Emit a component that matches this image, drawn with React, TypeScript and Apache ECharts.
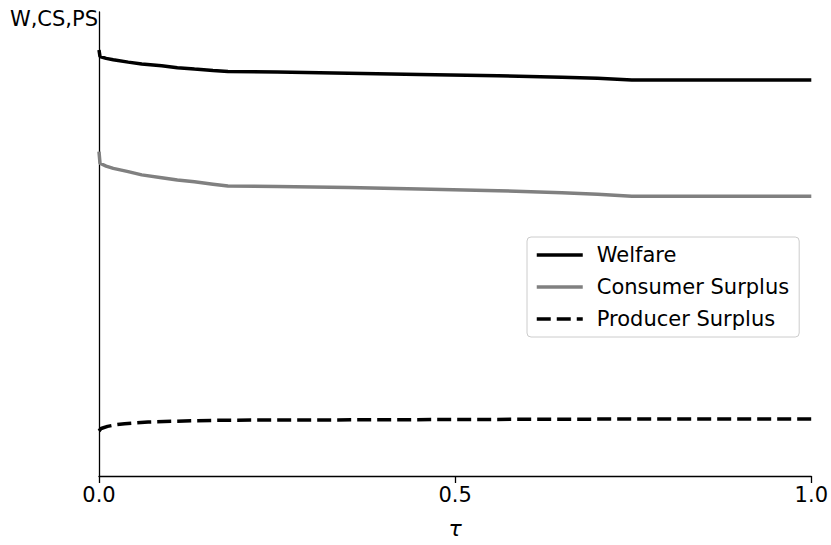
import React, { useEffect, useRef } from "react";
import * as echarts from "echarts";

// τ positions and values (arbitrary units, y axis unlabeled)
const welfareTau = [0, 0.0014, 0.01, 0.02, 0.041, 0.06, 0.088, 0.11, 0.134, 0.16, 0.181, 0.25, 0.35, 0.45, 0.56, 0.65, 0.7, 0.748, 0.85, 1.0];
const welfareVals = [91.8, 90.4, 90.0, 89.7, 89.2, 88.8, 88.4, 88.0, 87.7, 87.4, 87.2, 87.05, 86.8, 86.55, 86.25, 85.95, 85.7, 85.35, 85.35, 85.35];

const csTau = [0, 0.0014, 0.01, 0.02, 0.041, 0.06, 0.088, 0.11, 0.134, 0.16, 0.181, 0.25, 0.35, 0.45, 0.56, 0.65, 0.7, 0.748, 0.85, 1.0];
const csVals = [69.9, 67.4, 66.8, 66.3, 65.6, 64.9, 64.3, 63.8, 63.4, 62.9, 62.5, 62.4, 62.15, 61.85, 61.5, 61.05, 60.7, 60.3, 60.3, 60.3];

const psTau = [0, 0.003, 0.012, 0.024, 0.036, 0.069, 0.102, 0.134, 0.167, 0.181, 0.4, 0.6, 0.75, 1.0];
const psVals = [9.7, 10.24, 10.7, 11.05, 11.27, 11.64, 11.79, 11.92, 12.0, 12.03, 12.12, 12.22, 12.28, 12.28];

const xTicks = [0, 0.5, 1.0];
const seriesNames = ["Welfare", "Consumer Surplus", "Producer Surplus"];
const yAxisTitle = "W,CS,PS";
const xAxisTitle = "τ";

const FONT = "DejaVu Sans";

function zip(xs: number[], ys: number[]) {
  return xs.map((x, i) => [x, ys[i]]);
}

export default function App() {
  const ref = useRef<HTMLDivElement>(null);
  useEffect(() => {
    if (!ref.current) return;
    const chart = echarts.init(ref.current, undefined, { renderer: "svg" });
    chart.setOption({
      animation: false,
      backgroundColor: "#ffffff",
      grid: { left: 99, right: 18, top: 12, bottom: 69 },
      xAxis: {
        type: "value",
        min: xTicks[0],
        max: xTicks[xTicks.length - 1],
        interval: 0.5,
        name: xAxisTitle,
        nameLocation: "middle",
        nameGap: 41,
        nameTextStyle: { fontFamily: FONT, fontSize: 22, fontStyle: "italic", color: "#000" },
        axisLine: { show: true, lineStyle: { color: "#000", width: 1.3 } },
        axisTick: { show: true, inside: false, length: 7, lineStyle: { color: "#000", width: 1.3 } },
        axisLabel: {
          fontFamily: FONT,
          fontSize: 21,
          color: "#000",
          margin: 8,
          formatter: (v: number) => v.toFixed(1),
        },
        splitLine: { show: false },
      },
      yAxis: {
        type: "value",
        min: 0,
        max: 100,
        axisLine: { show: true, onZero: false, lineStyle: { color: "#000", width: 1.3 } },
        axisTick: { show: false },
        axisLabel: { show: false },
        splitLine: { show: false },
      },
      legend: {
        data: seriesNames,
        orient: "vertical",
        left: 527,
        top: 237,
        itemWidth: 46,
        itemHeight: 14,
        itemGap: 10,
        padding: [7, 10, 7, 8],
        borderColor: "#cccccc",
        borderWidth: 1,
        borderRadius: 4,
        backgroundColor: "rgba(255,255,255,0.8)",
        selectedMode: false,
        itemStyle: { opacity: 0 },
        lineStyle: { width: 3.5 },
        textStyle: {
          fontFamily: FONT,
          fontSize: 21,
          color: "#000",
          lineHeight: 22,
          padding: [0, 0, 0, 9],
        },
      },
      graphic: [
        {
          type: "text",
          right: 831 - 98,
          top: 8,
          style: {
            text: yAxisTitle,
            fontFamily: FONT,
            fontSize: 21,
            fill: "#000",
          },
        },
      ],
      series: [
        {
          name: seriesNames[0],
          type: "line",
          data: zip(welfareTau, welfareVals),
          showSymbol: false,
          symbol: "none",
          lineStyle: { color: "#000000", width: 3.5 },
          itemStyle: { color: "#000000" },
        },
        {
          name: seriesNames[1],
          type: "line",
          data: zip(csTau, csVals),
          showSymbol: false,
          symbol: "none",
          lineStyle: { color: "#808080", width: 3.5 },
          itemStyle: { color: "#808080" },
        },
        {
          name: seriesNames[2],
          type: "line",
          data: zip(psTau, psVals),
          showSymbol: false,
          symbol: "none",
          lineStyle: { color: "#000000", width: 3.5, type: [14, 6] },
          itemStyle: { color: "#000000" },
        },
      ],
    });
    return () => chart.dispose();
  }, []);
  return (
    <div
      ref={ref}
      style={{ position: "fixed", left: 0, top: 0, width: 831, height: 545 }}
    />
  );
}
